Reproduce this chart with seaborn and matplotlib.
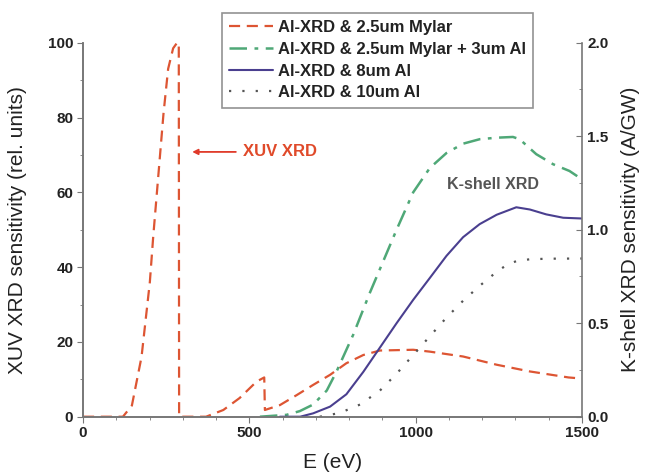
import matplotlib
matplotlib.use("Agg")
import matplotlib.pyplot as plt
from matplotlib.ticker import MultipleLocator, FormatStrFormatter
import seaborn as sns

# XUV channel (left axis, rel. units)
mylar_e = [0, 120, 147, 176, 191, 201, 211, 227, 242, 256, 271, 283, 288, 289,
           370, 422, 471, 522, 545, 547, 592, 643, 692, 743, 792, 843, 893,
           993, 1043, 1143, 1244, 1344, 1460, 1500]
mylar_v = [0, 0, 3, 16, 28, 36, 48, 65, 81, 93, 98.5, 100, 100, 0,
           0, 1.8, 5, 9.4, 10.5, 1.8, 3.1, 5.8, 8.5, 11.2, 14.3, 16.5, 17.7,
           17.9, 17.4, 16.1, 13.9, 12.1, 10.5, 10.2]

# K-shell channels (right axis, A/GW)
al3_e = [532, 612, 652, 692, 733, 762, 813, 862, 893, 943, 993, 1043, 1093,
         1143, 1193, 1244, 1293, 1313, 1363, 1414, 1463, 1500]
al3_v = [0, 0.01, 0.03, 0.065, 0.14, 0.24, 0.44, 0.66, 0.79, 1.0, 1.2,
         1.33, 1.41, 1.46, 1.484, 1.492, 1.496, 1.484, 1.404, 1.35, 1.314,
         1.27]

al8_e = [592, 653, 692, 743, 792, 843, 893, 943, 993, 1043, 1093, 1143, 1193,
         1244, 1303, 1344, 1393, 1444, 1500]
al8_v = [0, 0, 0.018, 0.054, 0.12, 0.24, 0.37, 0.5, 0.625, 0.742, 0.86,
         0.96, 1.03, 1.08, 1.12, 1.108, 1.082, 1.064, 1.06]

al10_e = [712, 772, 833, 893, 943, 993, 1043, 1093, 1143, 1193, 1244, 1273,
          1303, 1344, 1400, 1500]
al10_v = [0, 0.02, 0.065, 0.14, 0.23, 0.33, 0.43, 0.53, 0.62, 0.70, 0.775,
          0.81, 0.832, 0.842, 0.845, 0.846]

labels = ["Al-XRD & 2.5um Mylar", "Al-XRD & 2.5um Mylar + 3um Al",
          "Al-XRD & 8um Al", "Al-XRD & 10um Al"]

RED = "#dd5533"
GREEN = "#4fa877"
PURPLE = "#4a3f8f"
GREY = "#555555"
INK = "#222222"

sns.set_style("ticks")
plt.rcParams["font.family"] = ["Liberation Sans", "DejaVu Sans"]

fig = plt.figure(figsize=(6.45, 4.75), dpi=100)
ax = fig.add_axes([0.1287, 0.1227, 0.7733, 0.7874])
ax2 = ax.twinx()

sns.lineplot(x=mylar_e, y=mylar_v, ax=ax, color=RED, lw=1.6,
             linestyle=(0, (5, 3)), label=labels[0], legend=False)
sns.lineplot(x=al3_e, y=al3_v, ax=ax2, color=GREEN, lw=1.8,
             linestyle=(0, (7, 3, 1.5, 3)), label=labels[1], legend=False)
sns.lineplot(x=al8_e, y=al8_v, ax=ax2, color=PURPLE, lw=1.5,
             label=labels[2], legend=False)
sns.lineplot(x=al10_e, y=al10_v, ax=ax2, color=GREY, lw=1.6,
             linestyle=(0, (1, 5)), label=labels[3], legend=False)

ax.set_xlim(0, 1500)
ax.set_ylim(0, 100)
ax2.set_ylim(0, 2.0)

ax.xaxis.set_major_locator(MultipleLocator(500))
ax.xaxis.set_minor_locator(MultipleLocator(100))
ax.yaxis.set_major_locator(MultipleLocator(20))
ax.yaxis.set_minor_locator(MultipleLocator(10))
ax2.yaxis.set_major_locator(MultipleLocator(0.5))
ax2.yaxis.set_minor_locator(MultipleLocator(0.25))
ax2.yaxis.set_major_formatter(FormatStrFormatter("%.1f"))

spine_c = "#777777"
for a in (ax, ax2):
    a.spines["top"].set_visible(False)
    for s in a.spines.values():
        s.set_color(spine_c)
        s.set_linewidth(1.2)
ax.spines["right"].set_visible(False)

ax.tick_params(axis="both", which="major", direction="out", length=4,
               color=spine_c, labelsize=11, pad=3)
ax.tick_params(axis="both", which="minor", direction="out", length=2.5,
               color=spine_c)
ax2.tick_params(axis="y", which="major", direction="in", length=4,
                color=spine_c, labelsize=11, pad=4)
ax2.tick_params(axis="y", which="minor", direction="in", length=2.5,
                color=spine_c)
for lab in ax.get_xticklabels() + ax.get_yticklabels() + ax2.get_yticklabels():
    lab.set_fontweight("bold")
    lab.set_color(INK)

ax.set_xlabel("E (eV)", fontsize=15, labelpad=9, color=INK)
ax.set_ylabel("XUV XRD sensitivity (rel. units)", fontsize=15, labelpad=15,
              color=INK)
ax2.set_ylabel("K-shell XRD sensitivity (A/GW)", fontsize=15, labelpad=9,
               color=INK)

ax.annotate("", xy=(320, 70.8), xytext=(468, 70.8),
            arrowprops=dict(arrowstyle="-|>", color="#e03a2a", lw=1.3,
                            mutation_scale=8))
ax.text(480, 70.8, "XUV XRD", color="#e04a2a", fontsize=12,
        fontweight="bold", va="center", ha="left")
ax.text(1232, 62, "K-shell XRD", color="#555555", fontsize=11.5,
        fontweight="bold", va="center", ha="center")

handles = ax.get_lines()[:1] + ax2.get_lines()[:3]
leg = fig.legend(handles, labels, loc="upper left",
                 bbox_to_anchor=(0.344, 0.973), frameon=True, fancybox=False,
                 fontsize=12, handlelength=2.6, handletextpad=0.3,
                 borderpad=0.45, labelspacing=0.4, borderaxespad=0)
leg.get_frame().set_edgecolor("#777777")
leg.get_frame().set_linewidth(1.2)
for t in leg.get_texts():
    t.set_color(INK)
    t.set_fontweight("bold")

fig.savefig("out.png", dpi=100)
